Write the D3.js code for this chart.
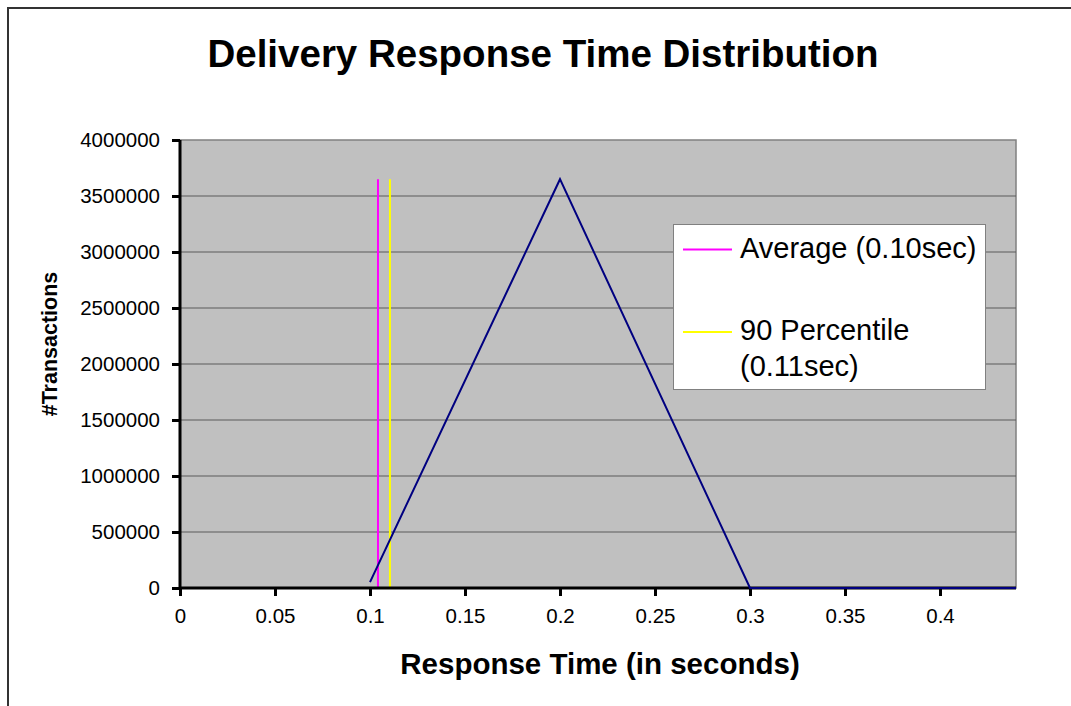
<!DOCTYPE html>
<html>
<head>
<meta charset="utf-8">
<script src="https://cdn.jsdelivr.net/npm/d3@7"></script>
<style>
  body { margin: 0; background: #fff; }
  text { font-family: Arial, "Liberation Sans", sans-serif; }
</style>
</head>
<body>
<svg id="chart" width="1071" height="706"></svg>
<script>
// response time (s) vs number of transactions
const times = [0.1, 0.2, 0.3, 0.4, 0.5];
const counts = [53000, 3650000, 0, 0, 0];
const avgTime = 0.1042;
const pctTime = 0.1105;
const markerTop = 3650000;
const xTicks = [0, 0.05, 0.1, 0.15, 0.2, 0.25, 0.3, 0.35, 0.4];
const yTicks = [0, 500000, 1000000, 1500000, 2000000, 2500000, 3000000, 3500000, 4000000];
const legendLabels = [["Average (0.10sec)"], ["90 Percentile", "(0.11sec)"]];
const legendColors = ["#ff00ff", "#ffff00"];

const svg = d3.select("#chart");
const plotL = 180, plotR = 1016, plotT = 140, plotB = 588;

let x = d3.scaleLinear().domain([0, 0.44]).range([plotL, plotR]);
let y = d3.scaleLinear().domain([0, 4000000]).range([plotB, plotT]);

// outer chart border
svg.append("rect")
  .attr("x", 8).attr("y", 8).attr("width", 1200).attr("height", 900)
  .attr("fill", "none").attr("stroke", "#333").attr("stroke-width", 2);

// title
svg.append("text")
  .attr("x", 543).attr("y", 67)
  .attr("text-anchor", "middle")
  .style("font-size", "38.5px").style("font-weight", "bold")
  .text("Delivery Response Time Distribution");

// plot area
svg.append("rect")
  .attr("x", plotL).attr("y", plotT)
  .attr("width", plotR - plotL).attr("height", plotB - plotT)
  .attr("fill", "#c0c0c0").attr("stroke", "#808080").attr("stroke-width", 1.5);

svg.selectAll(".grid")
  .data(yTicks.filter(d => d > 0 && d < 4000000))
  .enter()
  .append("line")
  .attr("class", "grid")
  .attr("x1", plotL).attr("x2", plotR)
  .attr("y1", d => y(d)).attr("y2", d => y(d))
  .attr("stroke", "#5a5a5a").attr("stroke-width", 1);

svg.append("defs").append("clipPath").attr("id", "clip")
  .append("rect").attr("x", plotL).attr("y", plotT - 5)
  .attr("width", plotR - plotL).attr("height", plotB - plotT + 10);

// marker lines
svg.selectAll(".marker")
  .data([avgTime, pctTime])
  .enter()
  .append("line")
  .attr("class", "marker")
  .attr("x1", d => x(d)).attr("x2", d => x(d))
  .attr("y1", y(0)).attr("y2", y(markerTop))
  .attr("stroke", (d, i) => legendColors[i])
  .attr("stroke-width", 2);

// axes
let xAxis = svg.append("g")
  .attr("transform", `translate(0,${plotB})`)
  .call(d3.axisBottom(x).tickValues(xTicks).tickSize(8).tickPadding(12).tickFormat(d => String(d)));
let yAxis = svg.append("g")
  .attr("transform", `translate(${plotL},0)`)
  .call(d3.axisLeft(y).tickValues(yTicks).tickSize(8).tickPadding(12).tickFormat(d => String(d)));

[xAxis, yAxis].forEach(a => {
  a.select(".domain").attr("stroke", "#000").attr("stroke-width", 3);
  a.selectAll(".tick line").attr("stroke", "#000").attr("stroke-width", 3);
  a.selectAll(".tick text").style("font-size", "20.5px").attr("fill", "#000")
    .style("font-family", "Arial, 'Liberation Sans', sans-serif");
});
xAxis.select(".domain").attr("d", `M${plotL},0H${plotR}`);
yAxis.select(".domain").attr("d", `M0,${plotT}V${plotB}`);

// data line
const pts = times.map((t, i) => [t, counts[i]]);
svg.append("path")
  .datum(pts)
  .attr("clip-path", "url(#clip)")
  .attr("fill", "none")
  .attr("stroke", "#000080")
  .attr("stroke-width", 2)
  .attr("d", d3.line().x(d => x(d[0])).y(d => y(d[1])));

// axis titles
svg.append("text")
  .attr("x", 600).attr("y", 674)
  .attr("text-anchor", "middle")
  .style("font-size", "29.5px").style("font-weight", "bold")
  .text("Response Time (in seconds)");
svg.append("text")
  .attr("transform", "translate(57,344) rotate(-90)")
  .attr("text-anchor", "middle")
  .style("font-size", "21.5px").style("font-weight", "bold")
  .text("#Transactions");

// legend
let legend = svg.append("g");
legend.append("rect")
  .attr("x", 673.5).attr("y", 224.5).attr("width", 312).attr("height", 165)
  .attr("fill", "#fff").attr("stroke", "#808080").attr("stroke-width", 1);
const rowY = [249.5, 332];
legendLabels.forEach((lines, i) => {
  legend.append("line")
    .attr("x1", 683).attr("x2", 732)
    .attr("y1", rowY[i]).attr("y2", rowY[i])
    .attr("stroke", legendColors[i]).attr("stroke-width", 2);
  lines.forEach((s, j) => {
    legend.append("text")
      .attr("x", 740).attr("y", rowY[i] + 8 + j * 36)
      .style("font-size", "29px")
      .text(s);
  });
});
</script>
</body>
</html>
